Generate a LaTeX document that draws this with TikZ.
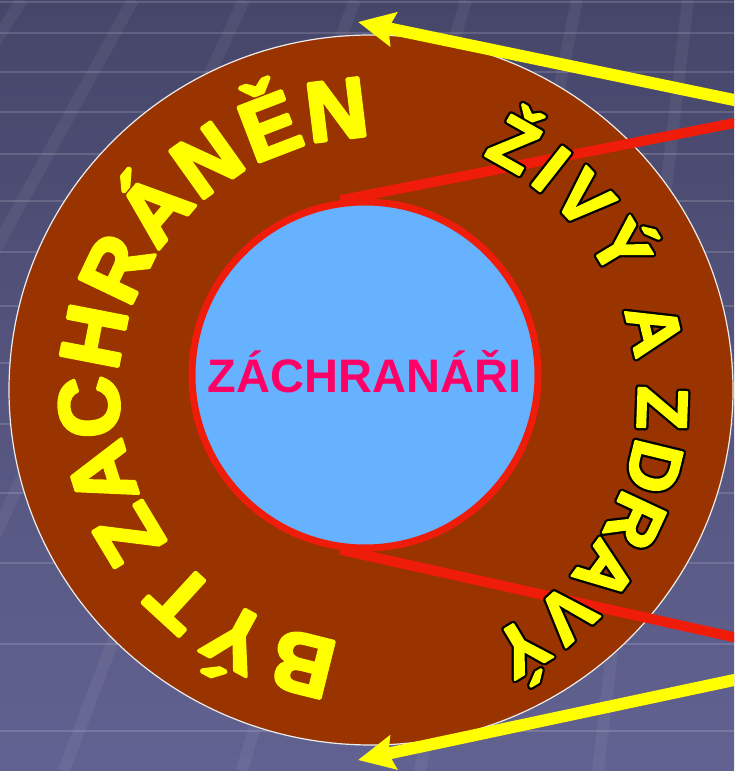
\documentclass[tikz,border=0pt]{standalone}
\usepackage{fontspec}
\setmainfont{Liberation Sans}
\usetikzlibrary{arrows.meta}

\definecolor{bgtop}{RGB}{70,70,106}
\definecolor{bgbot}{RGB}{98,98,146}
\definecolor{ringbrown}{RGB}{153,51,0}
\definecolor{skyblue}{RGB}{102,178,255}
\definecolor{rimred}{RGB}{240,28,10}
\definecolor{titlepink}{RGB}{255,0,102}
\definecolor{wordyellow}{RGB}{255,255,0}

% glyphs filled and stroked: heavy yellow, or heavy yellow on a black rim
\newcommand\heavyglyph[2][3.4]{\special{pdf:literal direct 1 j 2 Tr #1 w}#2\special{pdf:literal direct 0 Tr}}
\newcommand\rimglyph[1]{\rlap{\special{pdf:literal direct 0 0 0 rg 0 0 0 RG 1 j 2 Tr 6.6 w}#1\special{pdf:literal direct 0 Tr 1 1 0 rg 1 1 0 RG}}\heavyglyph[2]{#1}}

\tikzset{
  tileline/.style={white, opacity=0.14, line width=2.5pt},
  tileband/.style={white, opacity=0.05, line width=12pt},
  pointer/.style={wordyellow, line width=12pt, -{Stealth[length=36pt,width=34pt,inset=5pt]}},
  ray/.style={rimred, line width=10pt},
  arcletter/.style={anchor=base, inner sep=0pt, text=wordyellow, font=\bfseries\fontsize{85}{85}\selectfont},
  rimletter/.style={anchor=base, inner sep=0pt, text=wordyellow, font=\bfseries\fontsize{71}{71}\selectfont},
}

\begin{document}
\begin{tikzpicture}[x=1pt,y=1pt]
\useasboundingbox (0,0) rectangle (734,771);
\clip (0,0) rectangle (734,771);
% backdrop: tiled floor
\shade[top color=bgtop, bottom color=bgbot] (0,0) rectangle (734,771);
\foreach \y in {769,738,699,659,617,570,519,465,408,347,278,208,127,40}
  \draw[tileline] (0,\y) -- (734,\y);
\foreach \x in {22,133,244,355,466,577,688}
  \draw[tileband] (\x,771) -- ({837+(\x-837)*1.6042},0);

% rings
\draw[fill=ringbrown, draw=white!85!gray, line width=1.2pt] (371,381) ellipse [x radius=362, y radius=355];
\node[circle, draw=rimred, fill=skyblue, line width=7pt, minimum size=346pt, inner sep=0pt] (rescuers) at (365,396) {};
\node[anchor=base, text=titlepink, font=\bfseries\fontsize{47}{47}\selectfont] (title) at (364.5,378) {ZÁCHRANÁŘI};

% rays and pointers
\coordinate (rayA) at (760,653);
\coordinate (rayB) at (760,128);
\draw[ray] (rayA) -- (rescuers.98);
\draw[ray] (rayB) -- (rescuers.262);
\coordinate (tailA) at (760,665.6);
\coordinate (tipA) at (358,749);
\coordinate (tailB) at (760,96.5);
\coordinate (tipB) at (358,11);
\draw[pointer] (tailA) -- (tipA);
\draw[pointer] (tailB) -- (tipB);

% curved words
\begin{scope}[shift={(371,381)}]
\foreach \ch/\ang [count=\i] in {B/256,Ý/241.5,T/227.5,Z/211,A/197.5,C/183.5,H/169,R/154.5,Á/140,N/125.5,Ě/111,N/97}
  \node[arcletter, rotate=\ang-90] (saved\i) at (\ang:253) {\heavyglyph{\ch}};
\end{scope}
\begin{scope}[shift={(371,373)}]
\foreach \ch/\ang [count=\i] in {Ž/60.6,I/51.8,V/43,Ý/31.1,A/13.6,Z/-2,D/-13.7,R/-25,A/-36.5,V/-47.8,Ý/-58.9}
  \node[rimletter, rotate=\ang-90] (alive\i) at (\ang:267) {\rimglyph{\ch}};
\end{scope}
\end{tikzpicture}
\end{document}
